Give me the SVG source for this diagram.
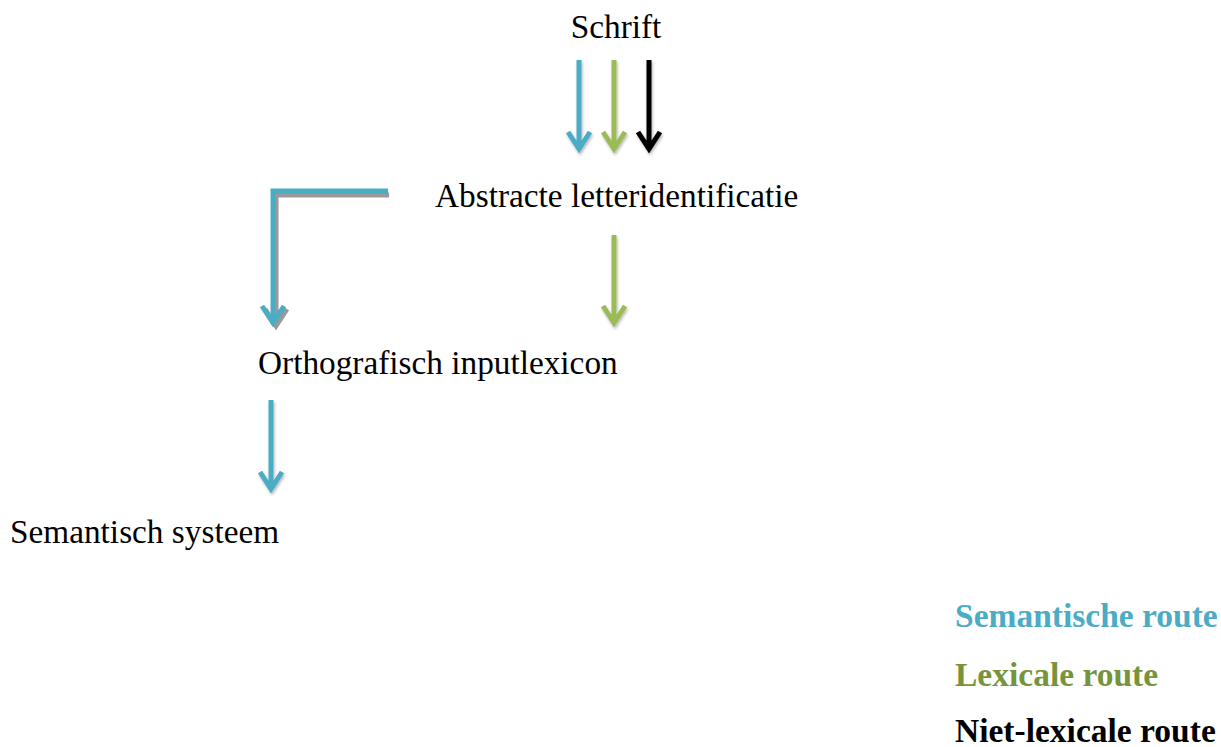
<svg xmlns="http://www.w3.org/2000/svg" width="1221" height="747" viewBox="0 0 1221 747">
<style>
.t{font-family:"Liberation Serif","Times New Roman",serif;font-size:33.3px;fill:#000}
.lg{font-family:"Liberation Serif","Times New Roman",serif;font-size:33.5px;font-weight:bold}
.a{fill:none;stroke-width:5;stroke-linejoin:miter;stroke-linecap:butt}
.b{stroke:#4BACC6}.g{stroke:#9BBB59}.k{stroke:#000}.s{stroke:#999}
</style>
<defs>
<filter id="sh" x="-50%" y="-10%" width="200%" height="130%">
<feGaussianBlur in="SourceAlpha" stdDeviation="1.5"/>
<feOffset dx="1" dy="2" result="o"/>
<feComponentTransfer><feFuncA type="linear" slope="0.3"/></feComponentTransfer>
<feMerge><feMergeNode/><feMergeNode in="SourceGraphic"/></feMerge>
</filter>
</defs>
<g id="connectors">
<g filter="url(#sh)">
<path class="a b" d="M579 60V148M568 132L579 149L590 132"/>
<path class="a g" d="M614 60V148M603 132L614 149L625 132"/>
<path class="a k" d="M649 60V148M638 132L649 149L660 132"/>
<path class="a g" d="M614 235V322M603 306L614 323L625 306"/>
<path class="a b" d="M271 400V488M260 472L271 489L282 472"/>
</g>
<path class="a s" d="M389 195H276V323M265 309L276 326L287 309"/>
<path class="a b" d="M388 191H273V320M262 306L273 323L284 306"/>
</g>
<g id="n-schrift"><text class="t" x="616" y="38" text-anchor="middle">Schrift</text></g>
<g id="n-abstracte"><text class="t" x="435" y="207">Abstracte letteridentificatie</text></g>
<g id="n-ortho"><text class="t" x="258" y="374">Orthografisch inputlexicon</text></g>
<g id="n-sem"><text class="t" x="10" y="543">Semantisch systeem</text></g>
<g id="legend">
<text class="lg" x="955" y="627" fill="#4BACC6">Semantische route</text>
<text class="lg" x="955" y="686" fill="#77933C">Lexicale route</text>
<text class="lg" x="955" y="742" fill="#000">Niet-lexicale route</text>
</g>
</svg>
